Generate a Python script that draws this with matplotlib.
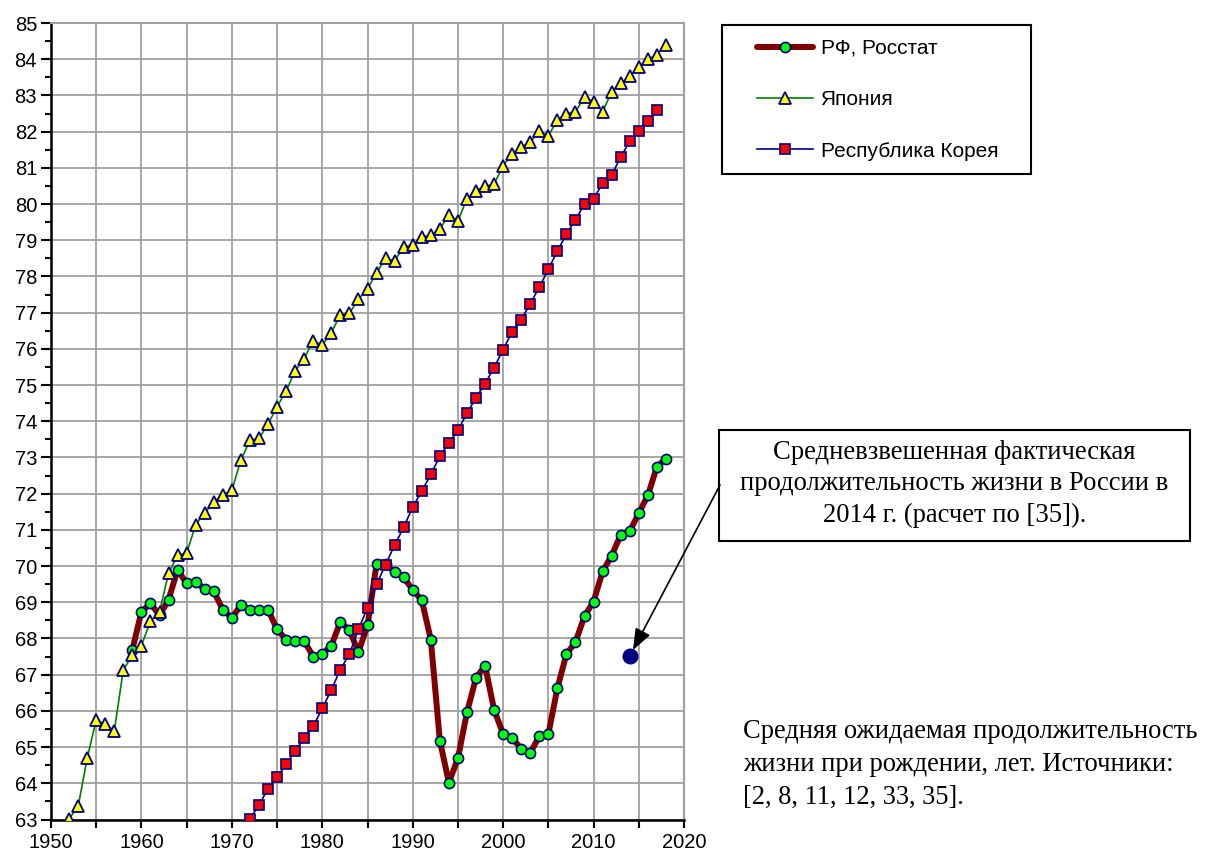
import matplotlib
matplotlib.use("Agg")
import matplotlib.pyplot as plt
from matplotlib.patches import Rectangle
from matplotlib.ticker import MultipleLocator

# ---- data ----
rus_years = list(range(1959, 2019))
rus_values = [67.69, 68.74, 68.97, 68.64, 69.07, 69.90, 69.52, 69.57, 69.36, 69.30,
              68.80, 68.57, 68.92, 68.80, 68.80, 68.80, 68.25, 67.97, 67.93, 67.93,
              67.50, 67.57, 67.80, 68.46, 68.23, 67.63, 68.36, 70.05, 70.05, 69.84,
              69.69, 69.34, 69.06, 67.97, 65.18, 64.02, 64.69, 65.96, 66.91, 67.25,
              66.03, 65.36, 65.24, 64.96, 64.84, 65.30, 65.36, 66.63, 67.57, 67.90,
              68.62, 69.02, 69.85, 70.29, 70.86, 70.96, 71.46, 71.95, 72.74, 72.97]

jap_years = list(range(1951, 2019))
jap_values = [61.5, 63.02, 63.36, 64.69, 65.75, 65.63, 65.45, 67.14, 67.53, 67.80,
              68.48, 68.73, 69.80, 70.30, 70.36, 71.14, 71.47, 71.77, 71.97, 72.09,
              72.93, 73.47, 73.53, 73.92, 74.40, 74.84, 75.39, 75.73, 76.22, 76.10,
              76.45, 76.94, 76.98, 77.37, 77.66, 78.10, 78.50, 78.43, 78.82, 78.87,
              79.08, 79.15, 79.31, 79.70, 79.53, 80.15, 80.37, 80.49, 80.55, 81.06,
              81.39, 81.57, 81.72, 82.02, 81.88, 82.33, 82.50, 82.55, 82.95, 82.83,
              82.55, 83.10, 83.33, 83.54, 83.78, 84.00, 84.12, 84.40]

kor_years = list(range(1971, 2018))
kor_values = [62.6, 63.02, 63.40, 63.85, 64.18, 64.52, 64.90, 65.24, 65.58, 66.07,
              66.58, 67.14, 67.57, 68.25, 68.85, 69.50, 70.04, 70.58, 71.07, 71.63,
              72.07, 72.53, 73.03, 73.40, 73.75, 74.22, 74.65, 75.04, 75.48, 75.98,
              76.47, 76.80, 77.25, 77.70, 78.20, 78.70, 79.17, 79.57, 80.00, 80.14,
              80.58, 80.80, 81.30, 81.73, 82.02, 82.30, 82.60]

point_year = 2014
point_value = 67.51

series_labels = ["РФ, Росстат", "Япония", "Республика Корея"]
note_box = "Средневзвешенная фактическая\nпродолжительность жизни в России в\n2014 г. (расчет по [35])."
note_bottom = "Средняя ожидаемая продолжительность\nжизни при рождении, лет. Источники:\n[2, 8, 11, 12, 33, 35]."

W, H = 1205, 855
fig = plt.figure(figsize=(W / 100, H / 100), dpi=100)
ax = fig.add_axes([51 / W, 1 - 819.5 / H, (684 - 51) / W, (819.5 - 23) / H])

sans = "Liberation Sans"
serif = "Liberation Serif"

navy = "#000080"
l1, = ax.plot(rus_years, rus_values, color="#800000", lw=4.3, marker="o",
              markersize=7.3, markerfacecolor="#00FF00", markeredgecolor=navy,
              markeredgewidth=1.2, solid_joinstyle="round", solid_capstyle="round",
              zorder=3)
l2, = ax.plot(jap_years, jap_values, color="#008000", lw=1.2, marker="^",
              markersize=9, markerfacecolor="#FFFF00", markeredgecolor=navy,
              markeredgewidth=1.3, zorder=4)
l3, = ax.plot(kor_years, kor_values, color=navy, lw=1.2, marker="s",
              markersize=6.5, markerfacecolor="#FF0000", markeredgecolor=navy,
              markeredgewidth=1.2, zorder=5)
ax.plot([point_year], [point_value], marker="o", markersize=10.5, color=navy,
        linestyle="none", zorder=6)

ax.set_xlim(1950, 2020)
ax.set_ylim(63, 85)
ax.xaxis.set_major_locator(MultipleLocator(10))
ax.xaxis.set_minor_locator(MultipleLocator(5))
ax.yaxis.set_major_locator(MultipleLocator(1))
ax.yaxis.set_minor_locator(MultipleLocator(0.5))

gridc = "#A0A0A0"
ax.grid(True, which="major", axis="y", color=gridc, lw=1.3, zorder=0)
ax.grid(True, which="both", axis="x", color=gridc, lw=1.3, zorder=0)
ax.set_axisbelow(True)

for s in ("top", "right"):
    ax.spines[s].set_color(gridc)
    ax.spines[s].set_linewidth(1.5)
for s in ("left", "bottom"):
    ax.spines[s].set_color("black")
    ax.spines[s].set_linewidth(1.8)

ax.tick_params(axis="y", which="major", direction="out", length=7, width=1.5,
               labelsize=14.5, pad=3)
ax.tick_params(axis="y", which="minor", direction="out", length=4, width=1.5)
ax.tick_params(axis="x", which="both", direction="out", length=6, width=1.5,
               labelsize=14.5, pad=4)
for lab in ax.get_xticklabels() + ax.get_yticklabels():
    lab.set_fontfamily(sans)

# legend
fig.patches.append(Rectangle((722 / W, 1 - 174 / H), (1031 - 722) / W, (174 - 25) / H,
                             transform=fig.transFigure, fill=False,
                             edgecolor="black", lw=1.5))
leg = fig.legend([l1, l2, l3], series_labels, loc="upper left",
                 bbox_to_anchor=(757 / W, 1 - 39 / H), frameon=False,
                 borderpad=0, borderaxespad=0, handlelength=2.7,
                 handletextpad=0.35, labelspacing=1.55,
                 prop={"family": sans, "size": 15})

# annotation box
fig.patches.append(Rectangle((719 / W, 1 - 541 / H), (1190 - 719) / W, (541 - 430) / H,
                             transform=fig.transFigure, fill=False,
                             edgecolor="black", lw=1.5))
fig.text(954.5 / W, 1 - 484 / H, note_box, ha="center", va="center",
         family=serif, fontsize=19.2, linespacing=1.32)

ax.annotate("", xy=(point_year, point_value), xycoords="data",
            xytext=(720 / W, 1 - 485 / H), textcoords="figure fraction",
            arrowprops=dict(arrowstyle="-|>,head_length=0.65,head_width=0.25",
                            color="black", lw=1.2, mutation_scale=20,
                            shrinkA=0, shrinkB=5),
            annotation_clip=False, zorder=7)

fig.text(743 / W, 1 - 764 / H, note_bottom, ha="left", va="center",
         family=serif, fontsize=19.1, linespacing=1.42)

fig.savefig("out.png", dpi=100)
